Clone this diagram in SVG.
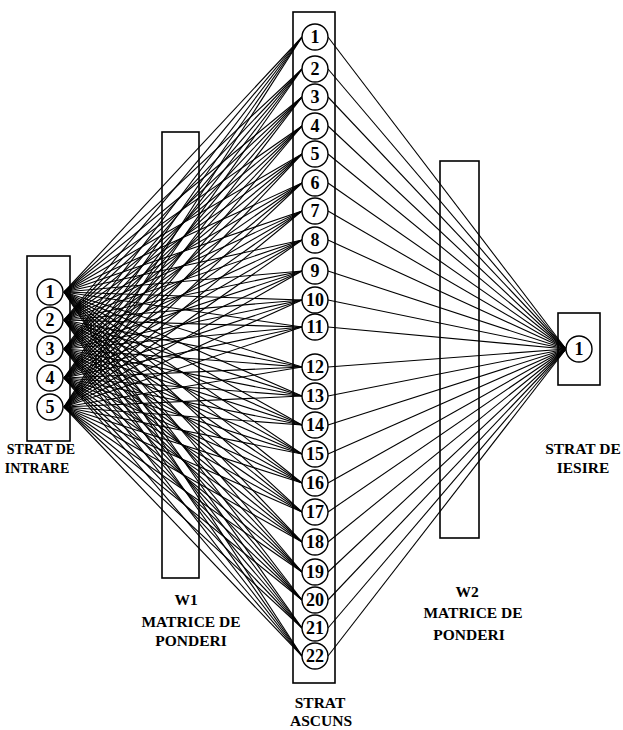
<svg xmlns="http://www.w3.org/2000/svg" width="623" height="730" viewBox="0 0 623 730">
<style>
.box{fill:none;stroke:#000;stroke-width:1.6}
.node circle{fill:#fff;stroke:#000;stroke-width:1.4}
.num{font-family:"Liberation Serif","Times New Roman","DejaVu Serif",serif;font-weight:bold;font-size:18px;text-anchor:middle;fill:#000}
.lbl{font-family:"Liberation Serif","Times New Roman","DejaVu Serif",serif;font-weight:bold;font-size:15.5px;text-anchor:middle;fill:#000}
.sm{font-size:14px}
#connectors line{stroke:#000;stroke-width:1.1}
</style>
<rect width="623" height="730" fill="#fff"/>
<g id="boxes">
<rect class="box" x="27" y="256" width="43" height="185"/>
<rect class="box" x="162" y="132" width="37" height="446"/>
<rect class="box" x="293" y="12" width="42" height="671"/>
<rect class="box" x="440" y="161" width="39" height="377"/>
<rect class="box" x="558" y="313" width="42" height="72"/>
</g>
<g id="connectors">
<g id="w1">
<line x1="64" y1="292" x2="302" y2="37"/><line x1="64" y1="292" x2="302" y2="69"/><line x1="64" y1="292" x2="302" y2="97"/><line x1="64" y1="292" x2="302" y2="126"/><line x1="64" y1="292" x2="302" y2="154"/><line x1="64" y1="292" x2="302" y2="183"/><line x1="64" y1="292" x2="302" y2="211"/><line x1="64" y1="292" x2="302" y2="240"/><line x1="64" y1="292" x2="302" y2="271"/><line x1="64" y1="292" x2="302" y2="300"/><line x1="64" y1="292" x2="302" y2="327"/><line x1="64" y1="292" x2="302" y2="367"/><line x1="64" y1="292" x2="302" y2="396"/><line x1="64" y1="292" x2="302" y2="425"/><line x1="64" y1="292" x2="302" y2="454"/><line x1="64" y1="292" x2="302" y2="483"/><line x1="64" y1="292" x2="302" y2="512"/><line x1="64" y1="292" x2="302" y2="542"/><line x1="64" y1="292" x2="302" y2="572"/><line x1="64" y1="292" x2="302" y2="600"/><line x1="64" y1="292" x2="302" y2="628"/><line x1="64" y1="292" x2="302" y2="656"/>
<line x1="64" y1="320" x2="302" y2="37"/><line x1="64" y1="320" x2="302" y2="69"/><line x1="64" y1="320" x2="302" y2="97"/><line x1="64" y1="320" x2="302" y2="126"/><line x1="64" y1="320" x2="302" y2="154"/><line x1="64" y1="320" x2="302" y2="183"/><line x1="64" y1="320" x2="302" y2="211"/><line x1="64" y1="320" x2="302" y2="240"/><line x1="64" y1="320" x2="302" y2="271"/><line x1="64" y1="320" x2="302" y2="300"/><line x1="64" y1="320" x2="302" y2="327"/><line x1="64" y1="320" x2="302" y2="367"/><line x1="64" y1="320" x2="302" y2="396"/><line x1="64" y1="320" x2="302" y2="425"/><line x1="64" y1="320" x2="302" y2="454"/><line x1="64" y1="320" x2="302" y2="483"/><line x1="64" y1="320" x2="302" y2="512"/><line x1="64" y1="320" x2="302" y2="542"/><line x1="64" y1="320" x2="302" y2="572"/><line x1="64" y1="320" x2="302" y2="600"/><line x1="64" y1="320" x2="302" y2="628"/><line x1="64" y1="320" x2="302" y2="656"/>
<line x1="64" y1="349" x2="302" y2="37"/><line x1="64" y1="349" x2="302" y2="69"/><line x1="64" y1="349" x2="302" y2="97"/><line x1="64" y1="349" x2="302" y2="126"/><line x1="64" y1="349" x2="302" y2="154"/><line x1="64" y1="349" x2="302" y2="183"/><line x1="64" y1="349" x2="302" y2="211"/><line x1="64" y1="349" x2="302" y2="240"/><line x1="64" y1="349" x2="302" y2="271"/><line x1="64" y1="349" x2="302" y2="300"/><line x1="64" y1="349" x2="302" y2="327"/><line x1="64" y1="349" x2="302" y2="367"/><line x1="64" y1="349" x2="302" y2="396"/><line x1="64" y1="349" x2="302" y2="425"/><line x1="64" y1="349" x2="302" y2="454"/><line x1="64" y1="349" x2="302" y2="483"/><line x1="64" y1="349" x2="302" y2="512"/><line x1="64" y1="349" x2="302" y2="542"/><line x1="64" y1="349" x2="302" y2="572"/><line x1="64" y1="349" x2="302" y2="600"/><line x1="64" y1="349" x2="302" y2="628"/><line x1="64" y1="349" x2="302" y2="656"/>
<line x1="64" y1="378" x2="302" y2="37"/><line x1="64" y1="378" x2="302" y2="69"/><line x1="64" y1="378" x2="302" y2="97"/><line x1="64" y1="378" x2="302" y2="126"/><line x1="64" y1="378" x2="302" y2="154"/><line x1="64" y1="378" x2="302" y2="183"/><line x1="64" y1="378" x2="302" y2="211"/><line x1="64" y1="378" x2="302" y2="240"/><line x1="64" y1="378" x2="302" y2="271"/><line x1="64" y1="378" x2="302" y2="300"/><line x1="64" y1="378" x2="302" y2="327"/><line x1="64" y1="378" x2="302" y2="367"/><line x1="64" y1="378" x2="302" y2="396"/><line x1="64" y1="378" x2="302" y2="425"/><line x1="64" y1="378" x2="302" y2="454"/><line x1="64" y1="378" x2="302" y2="483"/><line x1="64" y1="378" x2="302" y2="512"/><line x1="64" y1="378" x2="302" y2="542"/><line x1="64" y1="378" x2="302" y2="572"/><line x1="64" y1="378" x2="302" y2="600"/><line x1="64" y1="378" x2="302" y2="628"/><line x1="64" y1="378" x2="302" y2="656"/>
<line x1="64" y1="407" x2="302" y2="37"/><line x1="64" y1="407" x2="302" y2="69"/><line x1="64" y1="407" x2="302" y2="97"/><line x1="64" y1="407" x2="302" y2="126"/><line x1="64" y1="407" x2="302" y2="154"/><line x1="64" y1="407" x2="302" y2="183"/><line x1="64" y1="407" x2="302" y2="211"/><line x1="64" y1="407" x2="302" y2="240"/><line x1="64" y1="407" x2="302" y2="271"/><line x1="64" y1="407" x2="302" y2="300"/><line x1="64" y1="407" x2="302" y2="327"/><line x1="64" y1="407" x2="302" y2="367"/><line x1="64" y1="407" x2="302" y2="396"/><line x1="64" y1="407" x2="302" y2="425"/><line x1="64" y1="407" x2="302" y2="454"/><line x1="64" y1="407" x2="302" y2="483"/><line x1="64" y1="407" x2="302" y2="512"/><line x1="64" y1="407" x2="302" y2="542"/><line x1="64" y1="407" x2="302" y2="572"/><line x1="64" y1="407" x2="302" y2="600"/><line x1="64" y1="407" x2="302" y2="628"/><line x1="64" y1="407" x2="302" y2="656"/>
</g>
<g id="w2">
<line x1="328" y1="37" x2="566" y2="349"/><line x1="328" y1="69" x2="566" y2="349"/><line x1="328" y1="97" x2="566" y2="349"/><line x1="328" y1="126" x2="566" y2="349"/><line x1="328" y1="154" x2="566" y2="349"/><line x1="328" y1="183" x2="566" y2="349"/><line x1="328" y1="211" x2="566" y2="349"/><line x1="328" y1="240" x2="566" y2="349"/><line x1="328" y1="271" x2="566" y2="349"/><line x1="328" y1="300" x2="566" y2="349"/><line x1="328" y1="327" x2="566" y2="349"/><line x1="328" y1="367" x2="566" y2="349"/><line x1="328" y1="396" x2="566" y2="349"/><line x1="328" y1="425" x2="566" y2="349"/><line x1="328" y1="454" x2="566" y2="349"/><line x1="328" y1="483" x2="566" y2="349"/><line x1="328" y1="512" x2="566" y2="349"/><line x1="328" y1="542" x2="566" y2="349"/><line x1="328" y1="572" x2="566" y2="349"/><line x1="328" y1="600" x2="566" y2="349"/><line x1="328" y1="628" x2="566" y2="349"/><line x1="328" y1="656" x2="566" y2="349"/>
</g>
</g>
<g id="input-layer">
<g id="in1" class="node"><circle cx="50" cy="292" r="13"/><text class="num" x="50" y="298">1</text></g>
<g id="in2" class="node"><circle cx="50" cy="320" r="13"/><text class="num" x="50" y="326">2</text></g>
<g id="in3" class="node"><circle cx="50" cy="349" r="13"/><text class="num" x="50" y="355">3</text></g>
<g id="in4" class="node"><circle cx="50" cy="378" r="13"/><text class="num" x="50" y="384">4</text></g>
<g id="in5" class="node"><circle cx="50" cy="407" r="13"/><text class="num" x="50" y="413">5</text></g>
</g>
<g id="hidden-layer">
<g id="h1" class="node"><circle cx="315" cy="37" r="13"/><text class="num" x="315" y="43">1</text></g>
<g id="h2" class="node"><circle cx="315" cy="69" r="13"/><text class="num" x="315" y="75">2</text></g>
<g id="h3" class="node"><circle cx="315" cy="97" r="13"/><text class="num" x="315" y="103">3</text></g>
<g id="h4" class="node"><circle cx="315" cy="126" r="13"/><text class="num" x="315" y="132">4</text></g>
<g id="h5" class="node"><circle cx="315" cy="154" r="13"/><text class="num" x="315" y="160">5</text></g>
<g id="h6" class="node"><circle cx="315" cy="183" r="13"/><text class="num" x="315" y="189">6</text></g>
<g id="h7" class="node"><circle cx="315" cy="211" r="13"/><text class="num" x="315" y="217">7</text></g>
<g id="h8" class="node"><circle cx="315" cy="240" r="13"/><text class="num" x="315" y="246">8</text></g>
<g id="h9" class="node"><circle cx="315" cy="271" r="13"/><text class="num" x="315" y="277">9</text></g>
<g id="h10" class="node"><circle cx="315" cy="300" r="13"/><text class="num" x="315" y="306">10</text></g>
<g id="h11" class="node"><circle cx="315" cy="327" r="13"/><text class="num" x="315" y="333">11</text></g>
<g id="h12" class="node"><circle cx="315" cy="367" r="13"/><text class="num" x="315" y="373">12</text></g>
<g id="h13" class="node"><circle cx="315" cy="396" r="13"/><text class="num" x="315" y="402">13</text></g>
<g id="h14" class="node"><circle cx="315" cy="425" r="13"/><text class="num" x="315" y="431">14</text></g>
<g id="h15" class="node"><circle cx="315" cy="454" r="13"/><text class="num" x="315" y="460">15</text></g>
<g id="h16" class="node"><circle cx="315" cy="483" r="13"/><text class="num" x="315" y="489">16</text></g>
<g id="h17" class="node"><circle cx="315" cy="512" r="13"/><text class="num" x="315" y="518">17</text></g>
<g id="h18" class="node"><circle cx="315" cy="542" r="13"/><text class="num" x="315" y="548">18</text></g>
<g id="h19" class="node"><circle cx="315" cy="572" r="13"/><text class="num" x="315" y="578">19</text></g>
<g id="h20" class="node"><circle cx="315" cy="600" r="13"/><text class="num" x="315" y="606">20</text></g>
<g id="h21" class="node"><circle cx="315" cy="628" r="13"/><text class="num" x="315" y="634">21</text></g>
<g id="h22" class="node"><circle cx="315" cy="656" r="13"/><text class="num" x="315" y="662">22</text></g>
</g>
<g id="output-layer">
<g id="out1" class="node"><circle cx="579" cy="349" r="13"/><text class="num" x="579" y="355">1</text></g>
</g>
<g id="labels">
<text class="lbl sm" x="41" y="454">STRAT DE</text>
<text class="lbl sm" x="37" y="473">INTRARE</text>
<text class="lbl" x="186" y="605">W1</text>
<text class="lbl" x="191" y="627">MATRICE DE</text>
<text class="lbl" x="191" y="646">PONDERI</text>
<text class="lbl" x="320" y="708">STRAT</text>
<text class="lbl" x="321" y="726">ASCUNS</text>
<text class="lbl" x="467" y="597">W2</text>
<text class="lbl" x="473" y="618">MATRICE DE</text>
<text class="lbl" x="469" y="640">PONDERI</text>
<text class="lbl" x="583" y="454">STRAT DE</text>
<text class="lbl" x="583" y="473">IESIRE</text>
</g>
</svg>
